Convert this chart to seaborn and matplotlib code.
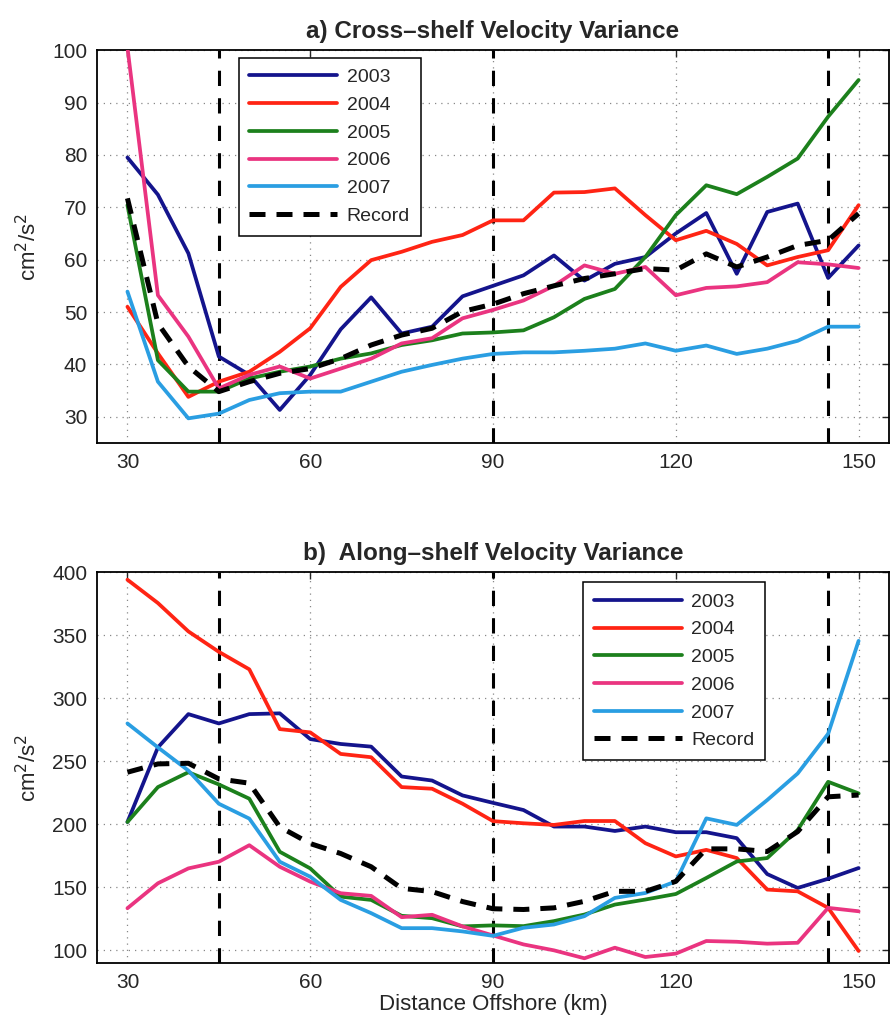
import numpy as np
import pandas as pd
import matplotlib
matplotlib.use("Agg")
import matplotlib.pyplot as plt
import seaborn as sns

sns.set_style("white")
plt.rcParams['font.family'] = ['Liberation Sans', 'DejaVu Sans']

distance = [30, 35, 40, 45, 50, 55, 60, 65, 70, 75, 80, 85, 90,
            95, 100, 105, 110, 115, 120, 125, 130, 135, 140, 145, 150]
series_names = ["2003", "2004", "2005", "2006", "2007", "Record"]

cross_2003 = [79.5, 72.4, 61.2, 41.5, 38.0, 31.3, 38.0, 46.7, 52.8, 45.9, 47.2, 53.0, 55.0,
              57.0, 60.8, 56.0, 59.2, 60.5, 65.0, 68.9, 57.3, 69.1, 70.7, 56.5, 62.7]
cross_2004 = [51.0, 42.1, 33.8, 36.7, 38.6, 42.4, 46.9, 54.8, 59.9, 61.5, 63.4, 64.7, 67.5,
              67.5, 72.8, 72.9, 73.6, 68.5, 63.7, 65.5, 63.0, 58.9, 60.5, 61.8, 70.4]
cross_2005 = [70.4, 40.8, 34.8, 34.8, 37.3, 38.6, 39.6, 41.1, 42.1, 43.7, 44.6, 45.9, 46.1,
              46.5, 49.0, 52.5, 54.4, 60.5, 68.5, 74.2, 72.5, 75.8, 79.3, 87.3, 94.3]
cross_2006 = [100.5, 53.2, 45.3, 35.4, 38.0, 39.6, 37.3, 39.2, 41.1, 44.0, 45.0, 48.8, 50.4,
              52.2, 55.0, 58.9, 57.3, 58.6, 53.2, 54.6, 54.9, 55.7, 59.5, 59.1, 58.4]
cross_2007 = [53.9, 36.7, 29.7, 30.6, 33.2, 34.5, 34.8, 34.8, 36.7, 38.6, 39.9, 41.1, 42.0,
              42.3, 42.3, 42.6, 43.0, 44.0, 42.6, 43.6, 42.0, 43.0, 44.5, 47.2, 47.2]
cross_record = [71.7, 47.8, 39.6, 34.8, 36.7, 38.3, 39.2, 41.1, 43.7, 45.6, 46.9, 50.1, 51.5,
                53.5, 55.0, 56.4, 57.3, 58.3, 58.0, 61.1, 58.6, 60.5, 62.7, 63.7, 68.8]

along_2003 = [201.8, 261.0, 287.4, 280.0, 287.4, 288.0, 267.6, 263.7, 261.6, 237.9, 234.7, 222.9, 217.0,
              211.3, 198.2, 198.2, 194.7, 198.2, 193.7, 193.7, 189.0, 160.5, 149.5, 156.8, 165.3]
along_2004 = [394.0, 375.5, 353.0, 336.8, 322.9, 275.5, 272.9, 255.8, 253.2, 229.5, 228.2, 216.3, 202.5,
              200.8, 199.5, 202.6, 202.6, 185.0, 174.5, 179.7, 173.2, 148.2, 146.8, 133.7, 99.5]
along_2005 = [201.8, 229.5, 241.3, 231.6, 220.3, 178.2, 165.0, 142.6, 140.0, 127.4, 125.5, 119.0, 119.8,
              119.2, 123.2, 128.4, 136.3, 140.3, 144.7, 157.4, 170.5, 173.2, 195.5, 233.7, 224.5]
along_2006 = [133.4, 153.2, 165.0, 170.3, 183.4, 166.3, 154.5, 145.3, 143.2, 126.3, 128.2, 119.0, 111.8,
              104.7, 100.0, 93.7, 102.1, 94.7, 97.4, 107.4, 106.8, 105.3, 106.0, 133.7, 131.0]
along_2007 = [280.0, 261.0, 242.6, 216.3, 204.5, 170.3, 158.4, 140.0, 129.5, 117.6, 117.6, 115.0, 111.5,
              117.9, 120.5, 127.1, 141.6, 145.5, 154.7, 204.7, 199.5, 219.2, 240.3, 271.8, 345.5]
along_record = [241.3, 247.9, 248.4, 236.0, 232.6, 197.9, 184.7, 176.8, 166.3, 149.2, 146.6, 138.7, 133.0,
                132.4, 133.7, 138.9, 146.8, 146.8, 154.7, 180.5, 180.5, 178.4, 194.2, 221.8, 223.2]

x_ticks = [30, 60, 90, 120, 150]
cross_yticks = [30, 40, 50, 60, 70, 80, 90, 100]
along_yticks = [100, 150, 200, 250, 300, 350, 400]
boundaries = [45, 90, 145]

colors = ["#14148c", "#ff2414", "#1c801c", "#ea3480", "#2a9ee2", "black"]

cross = [cross_2003, cross_2004, cross_2005, cross_2006, cross_2007, cross_record]
along = [along_2003, along_2004, along_2005, along_2006, along_2007, along_record]

fig = plt.figure(figsize=(8.93, 10.23), dpi=100)
ax_a = fig.add_axes([0.1086, 0.567, 0.887, 0.384])
ax_b = fig.add_axes([0.1086, 0.0587, 0.887, 0.382])


def draw(ax, data, yticks, ylim, title, legend_anchor):
    for name, vals, col in zip(series_names, data, colors):
        df = pd.DataFrame({"x": distance, "y": vals})
        if name == "Record":
            sns.lineplot(data=df, x="x", y="y", ax=ax, color=col, lw=3.6,
                         linestyle=(0, (3.2, 2.2)), label=name, zorder=3)
        else:
            sns.lineplot(data=df, x="x", y="y", ax=ax, color=col, lw=2.7,
                         label=name, zorder=3)
    for b in boundaries:
        ax.axvline(b, color="black", lw=2.2, linestyle=(0, (5, 4)), zorder=2)
    ax.set_xlim(25, 155)
    ax.set_ylim(*ylim)
    ax.set_xticks(x_ticks)
    ax.set_yticks(yticks)
    ax.grid(True, linestyle=(0, (1, 4)), color="#888888", lw=0.9)
    ax.tick_params(direction="in", length=5, width=1, labelsize=15,
                   top=True, right=True, pad=7)
    for s in ax.spines.values():
        s.set_linewidth(1.3)
        s.set_color("black")
    ax.set_title(title, fontsize=17.5, fontweight="bold", pad=9)
    ax.set_ylabel("cm$^2$/s$^2$", fontsize=16, labelpad=8)
    leg = ax.legend(loc="upper left", bbox_to_anchor=legend_anchor, fontsize=14,
                    handlelength=4.5, labelspacing=0.52, borderpad=0.55,
                    handletextpad=0.5, borderaxespad=0, frameon=True, fancybox=False,
                    edgecolor="black", framealpha=1)
    leg.get_frame().set_linewidth(1.1)


draw(ax_a, cross, cross_yticks, (25, 100), "a) Cross\u2013shelf Velocity Variance", (0.179, 0.98))
ax_a.set_xlabel("")
draw(ax_b, along, along_yticks, (90, 400), "b)  Along\u2013shelf Velocity Variance", (0.614, 0.974))
ax_b.set_xlabel("Distance Offshore (km)", fontsize=16, labelpad=2)

fig.savefig("out.png", dpi=100)
